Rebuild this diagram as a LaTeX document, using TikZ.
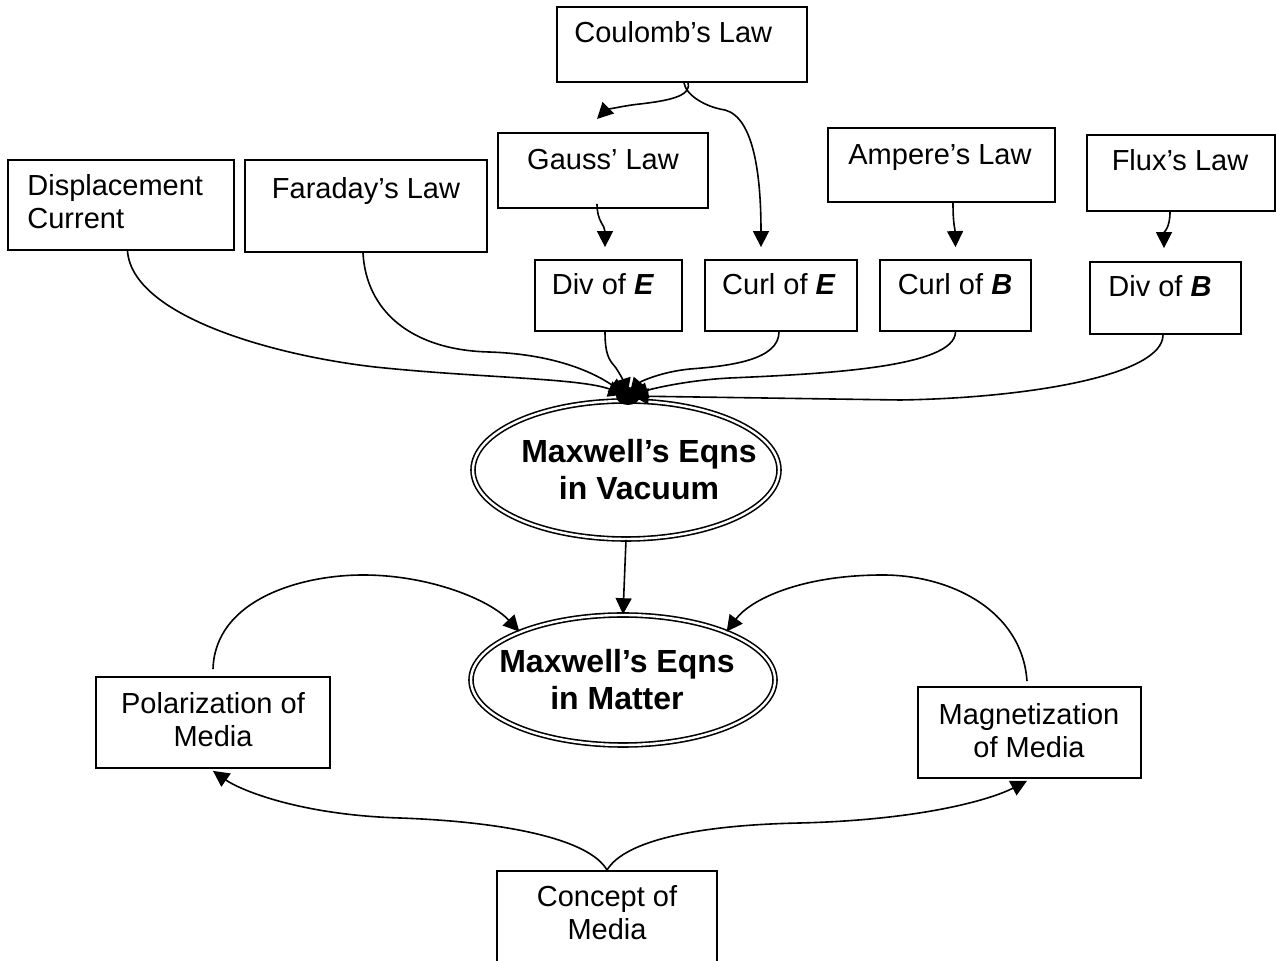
\documentclass[tikz,border=0pt]{standalone}
\usepackage{fontspec}
\setmainfont{Liberation Sans}
\usetikzlibrary{arrows.meta,shapes.geometric}
\begin{document}
\begin{tikzpicture}[x=0.5pt,y=-0.5pt,
  box/.style={draw, line width=0.9pt, rectangle, inner sep=0pt},
  txt/.style={inner sep=0pt, font=\fontsize{14.5}{16.5}\selectfont},
  btxt/.style={inner sep=0pt, align=center, font=\fontsize{16}{18.5}\selectfont\bfseries},
  dbl/.style={ellipse, draw, line width=0.8pt, double, double distance=1.2pt, inner sep=0pt},
  arr/.style={line width=0.8pt, -{Triangle[length=8pt,width=8pt]}},
  hubarr/.style={arr, shorten >=-4pt}]
\clip (0,0) rectangle (1276,961);
% boxes
\node[box, minimum width=125pt, minimum height=37.5pt] (coul) at (682,44.5) {};
\node[txt, anchor=base west] (coul-t) at (574,43) {Coulomb’s Law};
\node[box, minimum width=105pt, minimum height=37.5pt] (gauss) at (603,170.5) {};
\node[txt, anchor=base] (gauss-t) at (603,170) {Gauss’ Law};
\node[box, minimum width=113pt, minimum height=45pt] (disp) at (121,205) {};
\node[txt, anchor=west, align=left] (disp-t) at (27,202) {Displacement\\Current};
\node[box, minimum width=121pt, minimum height=46pt] (fara) at (366,206) {};
\node[txt, anchor=base] (fara-t) at (366,199) {Faraday’s Law};
\node[box, minimum width=113.5pt, minimum height=37pt] (amp) at (941.5,165) {};
\node[txt, anchor=base] (amp-t) at (940,165) {Ampere’s Law};
\node[box, minimum width=94pt, minimum height=38pt] (flux) at (1181,173) {};
\node[txt, anchor=base] (flux-t) at (1180,171) {Flux’s Law};
\node[box, minimum width=73.5pt, minimum height=35.5pt] (dive) at (608.5,295.5) {};
\node[txt, anchor=base] (dive-t) at (603,295) {Div of \textbf{\textit{E}}};
\node[box, minimum width=76pt, minimum height=35.5pt] (curle) at (781,295.5) {};
\node[txt, anchor=base] (curle-t) at (779,295) {Curl of \textbf{\textit{E}}};
\node[box, minimum width=75.5pt, minimum height=35.5pt] (curlb) at (955.5,295.5) {};
\node[txt, anchor=base] (curlb-t) at (955,295) {Curl of \textbf{\textit{B}}};
\node[box, minimum width=75.5pt, minimum height=36pt] (divb) at (1165.5,298) {};
\node[txt, anchor=base] (divb-t) at (1160,297) {Div of \textbf{\textit{B}}};
% ellipses
\node[dbl, minimum width=153pt, minimum height=69pt] (vac) at (626,470) {};
\node[btxt] (vac-t) at (639,470) {Maxwell’s Eqns\\in Vacuum};
\node[dbl, minimum width=152pt, minimum height=65pt] (mat) at (623,680) {};
\node[btxt] (mat-t) at (617,680) {Maxwell’s Eqns\\in Matter};
% lower boxes
\node[box, minimum width=117pt, minimum height=45.5pt] (pol) at (213,722.5) {};
\node[txt, align=center] (pol-t) at (213,720) {Polarization of\\Media};
\node[box, minimum width=111.5pt, minimum height=45.5pt] (mag) at (1029.5,732.5) {};
\node[txt, align=center] (mag-t) at (1029,731) {Magnetization\\of Media};
\node[box, minimum width=110pt, minimum height=55pt] (conc) at (607,926) {};
\node[txt, align=center] (conc-t) at (607,913) {Concept of\\Media};
% hub
\node[ellipse, fill, inner sep=0pt, minimum width=12pt, minimum height=9pt] (hub) at (628,396) {};
% top connectors
\coordinate (gtip) at (597,119);
\draw[arr] ([xshift=3pt]coul.south) .. controls (692,97) and (665,101) .. (640,104) .. controls (620,106) and (605,111) .. (gtip);
\draw[arr] ([xshift=1pt]coul.south) .. controls (686,95) and (705,107) .. (725,110) .. controls (755,118) and (761,180) .. ([xshift=-10pt,yshift=6pt]curle.north);
\draw[arr] ([xshift=-3pt,yshift=2.5pt]gauss.south) .. controls (597,222) and (605,225) .. ([xshift=-1.75pt,yshift=6pt]dive.north);
\draw[arr] ([xshift=5.75pt]amp.south) .. controls (953,225) and (955,228) .. ([yshift=6pt]curlb.north);
\draw[arr] ([xshift=-5.5pt]flux.south) .. controls (1170,228) and (1164,232) .. ([xshift=-0.75pt,yshift=6.5pt]divb.north);
% to hub
\draw[hubarr] ([xshift=3.25pt]disp.south) .. controls (132,315) and (270,355) .. (375,367) .. controls (480,378) and (580,378) .. (hub);
\draw[hubarr] ([xshift=-1.5pt]fara.south) .. controls (366,310) and (410,350) .. (489,352) .. controls (550,354) and (590,370) .. (hub);
\draw[hubarr] ([xshift=-1.75pt]dive.south) .. controls (605,360) and (612,362) .. (616,368) .. controls (620,374) and (623,380) .. (hub);
\draw[hubarr] ([xshift=-1pt]curle.south) .. controls (779,360) and (730,366) .. (690,369) .. controls (660,372) and (640,382) .. (hub);
\draw[hubarr] (curlb.south) .. controls (955,368) and (820,374) .. (730,378) .. controls (690,380) and (655,388) .. (hub);
\draw[hubarr] ([xshift=-1.25pt]divb.south) .. controls (1163,375) and (1030,398) .. (900,400) -- (hub);
% vacuum to matter
\draw[arr] (vac.south) -- (mat.north);
\draw[arr] ([yshift=3.5pt]pol.north) .. controls (215,600) and (300,575) .. (363,575) .. controls (430,575) and (490,600) .. (mat.155);
\draw[arr] ([xshift=-1.25pt,yshift=2.5pt]mag.north) .. controls (1022,610) and (950,575) .. (883,575) .. controls (800,575) and (750,600) .. (mat.25);
% concept
\draw[arr] (conc.north) .. controls (590,840) and (510,822) .. (400,818) .. controls (300,815) and (240,790) .. ([yshift=-1pt]pol.south);
\draw[arr] (conc.north) .. controls (625,840) and (700,825) .. (800,823) .. controls (920,820) and (990,800) .. ([xshift=-1.25pt,yshift=-1pt]mag.south);
\end{tikzpicture}
\end{document}
